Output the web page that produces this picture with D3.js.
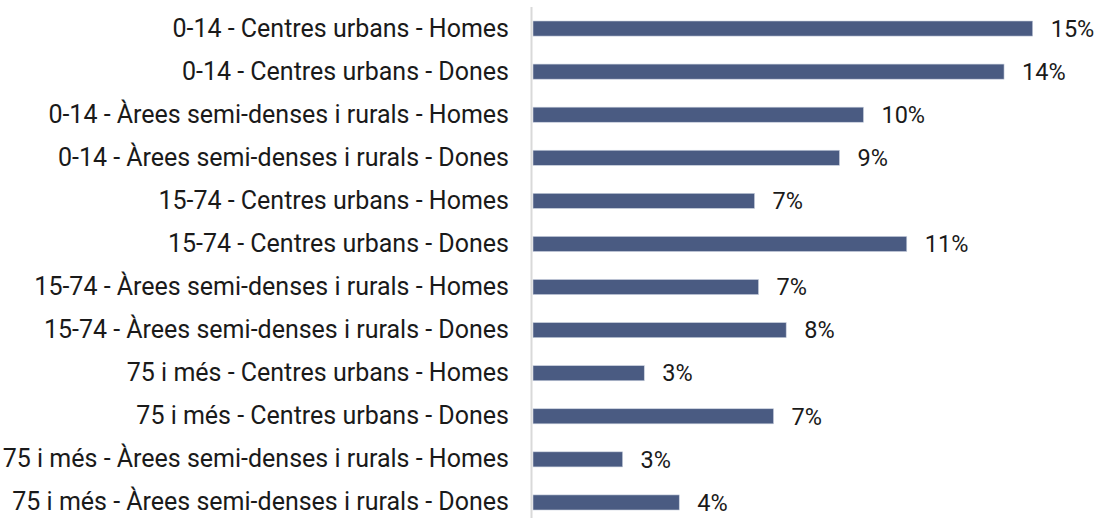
<!DOCTYPE html>
<html>
<head>
<meta charset="utf-8">
<script src="https://cdn.jsdelivr.net/npm/d3@7"></script>
<style>
  html, body { margin: 0; padding: 0; background: #ffffff; }
  svg { display: block; }
</style>
</head>
<body>
<svg id="chart" width="1094" height="518"></svg>
<script>
// Share of population per age group, area type and sex
const categories = [
  "0-14 - Centres urbans - Homes",
  "0-14 - Centres urbans - Dones",
  "0-14 - Àrees semi-denses i rurals - Homes",
  "0-14 - Àrees semi-denses i rurals - Dones",
  "15-74 - Centres urbans - Homes",
  "15-74 - Centres urbans - Dones",
  "15-74 - Àrees semi-denses i rurals - Homes",
  "15-74 - Àrees semi-denses i rurals - Dones",
  "75 i més - Centres urbans - Homes",
  "75 i més - Centres urbans - Dones",
  "75 i més - Àrees semi-denses i rurals - Homes",
  "75 i més - Àrees semi-denses i rurals - Dones"
];
const values = [0.150, 0.1414, 0.0992, 0.0920, 0.0665, 0.1122, 0.0677, 0.0760, 0.0334, 0.0722, 0.0269, 0.0439];

const svg = d3.select("#chart");
const fontFamily = "Roboto, 'Noto Sans', sans-serif";

const x0 = 533, y0 = 7, yEnd = 524;
const x = d3.scaleLinear().domain([0, 0.15]).range([x0, x0 + 499.7]);
const y = d3.scaleBand().domain(categories).range([y0, yEnd]).paddingInner(0.65).paddingOuter(0.325);

// bars
svg.append("g").selectAll("rect")
  .data(values)
  .join("rect")
  .attr("x", x(0))
  .attr("y", (d, i) => y(categories[i]))
  .attr("width", d => x(d) - x(0))
  .attr("height", y.bandwidth())
  .attr("fill", "#4a5b82")
  .attr("stroke", "#c9d0de")
  .attr("stroke-width", 0.6);

// category axis (left), line only
const axis = d3.axisLeft(y).tickSize(0).tickPadding(22.5);
const gAxis = svg.append("g").attr("transform", `translate(${x0 - 1.5},0)`).call(axis);
gAxis.select(".domain").attr("d", `M0,${y0}V${yEnd}`).attr("stroke", "#d9d9d9").attr("stroke-width", 2);
gAxis.selectAll("text")
  .attr("font-family", fontFamily)
  .attr("font-size", 25)
  .attr("fill", "#1a1a1a");

// value labels
const fmt = d3.format(".0%");
svg.append("g").selectAll("text")
  .data(values)
  .join("text")
  .attr("x", d => x(d) + 18)
  .attr("y", (d, i) => y(categories[i]) + y.bandwidth() / 2)
  .attr("dy", "0.35em")
  .attr("font-family", fontFamily)
  .attr("font-size", 23.5)
  .attr("fill", "#1a1a1a")
  .text(d => fmt(d));
</script>
</body>
</html>
